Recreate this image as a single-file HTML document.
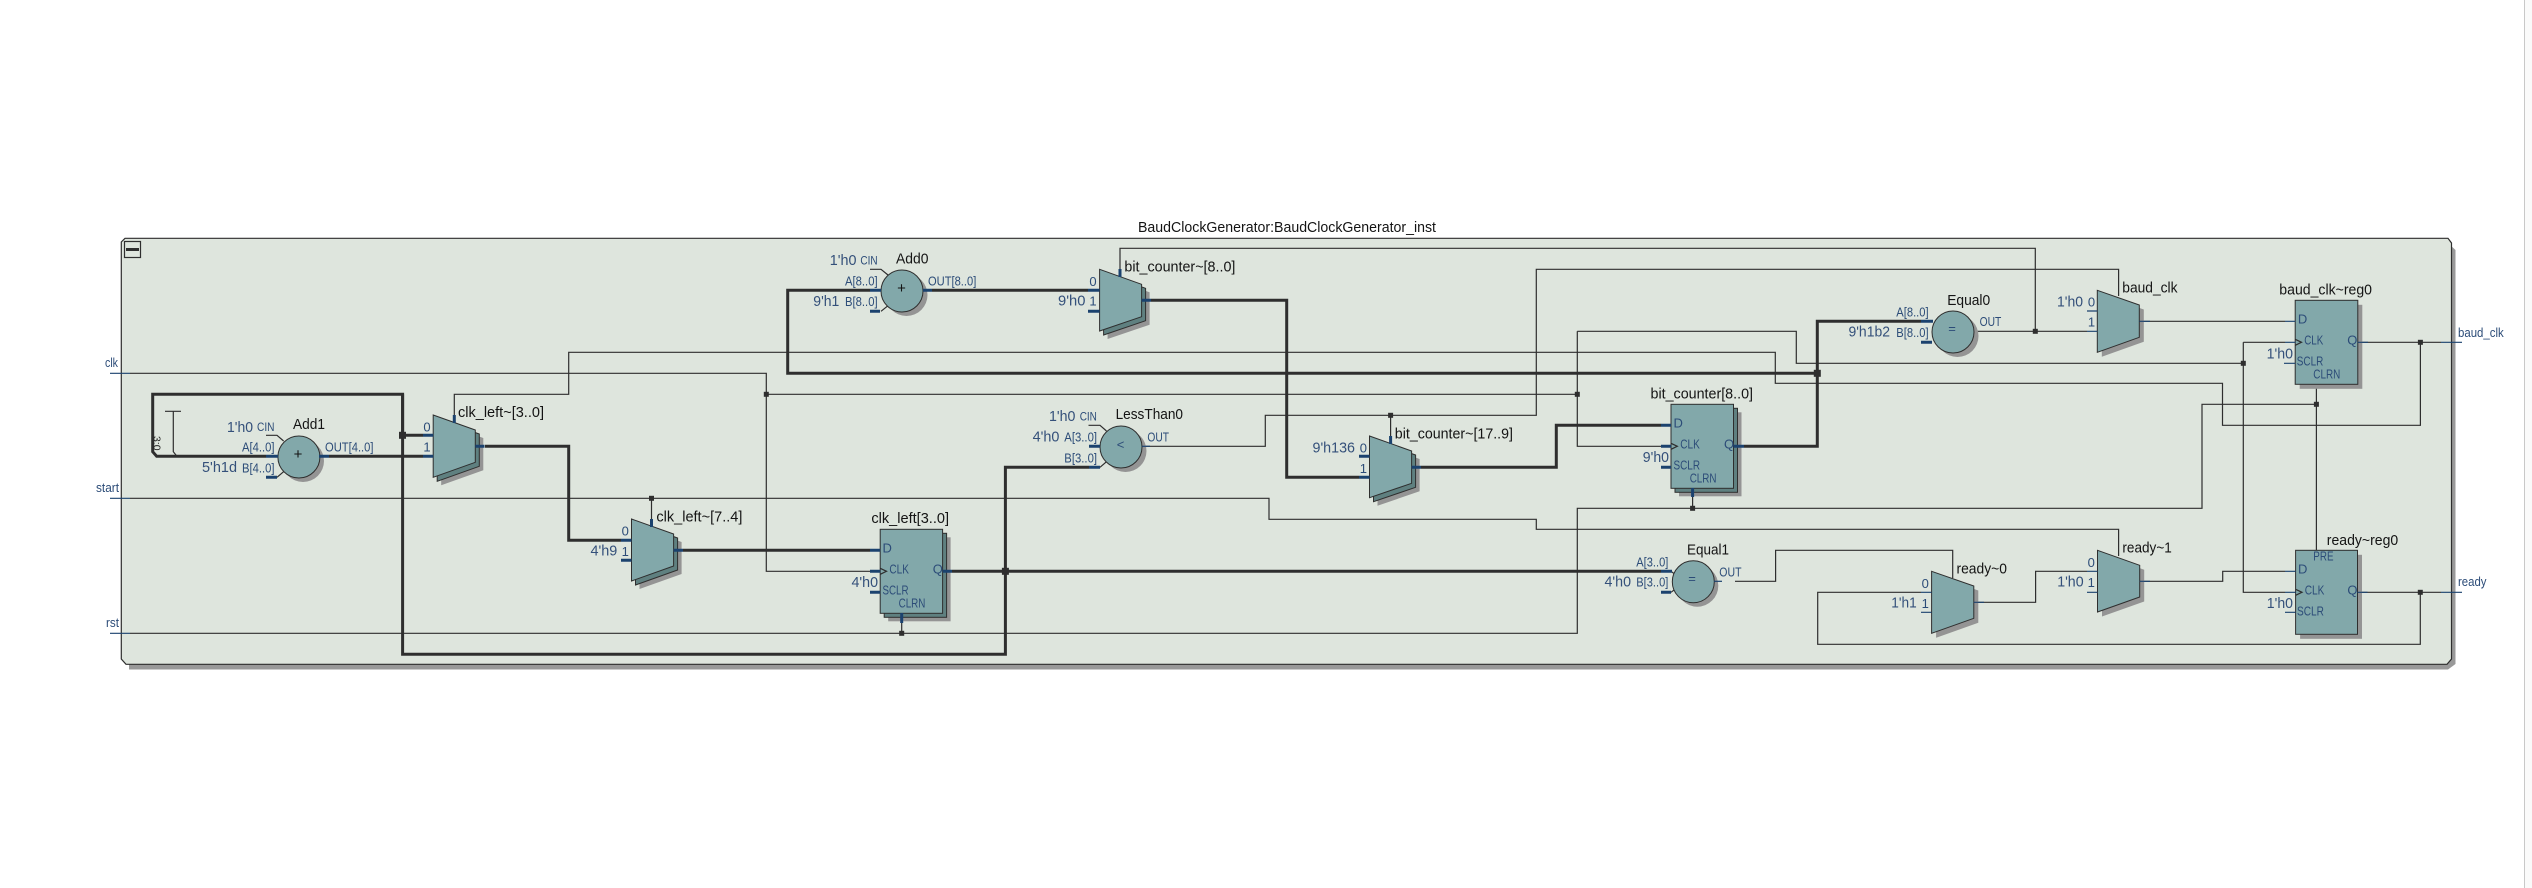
<!DOCTYPE html>
<html><head><meta charset="utf-8"><style>
html,body{margin:0;padding:0;background:#fff;width:2532px;height:888px;overflow:hidden}
svg{display:block;font-family:"Liberation Sans",sans-serif}
.w{fill:none;stroke:#2e2e2e;stroke-width:1.2}
.t{fill:none;stroke:#2e2e2e;stroke-width:3}
.b{fill:none;stroke:#1b426e;stroke-width:3}
.s{fill:none;stroke:#1b426e;stroke-width:1.2}
.f{fill:#82a8aa;stroke:#2e2e2e;stroke-width:1}
.k{fill:#5f8080;stroke:#2e2e2e;stroke-width:1}
.g{fill:#949494}
.j{fill:#2e2e2e}
.n{font-size:15px;fill:#141414}
.c{font-size:15px;fill:#34507a}
.p{font-size:13px;fill:#2c4c78}
.m{font-size:12px;fill:#2c4c78}
</style></head><body>
<svg width="2532" height="888" viewBox="0 0 2532 888" xmlns="http://www.w3.org/2000/svg">
<rect width="2532" height="888" fill="#fff"/>
<rect x="2524" y="0" width="8" height="888" fill="#fafafa"/>
<rect x="2524" y="0" width="1" height="888" fill="#c8c8c8"/>

<polygon fill="#999" points="129,243 2448,243 2455.5,250 2455.5,664 2448,669.5 129,669.5"/>
<polygon points="125,238.3 2448,238.3 2451.5,243 2451.5,659 2447,664.3 126,664.3 121.3,659 121.3,242" fill="#dee5dd" stroke="#2e2e2e" stroke-width="1.2"/>
<rect x="124.5" y="241.5" width="16" height="16" fill="none" stroke="#2e2e2e" stroke-width="1.2"/>
<rect x="126" y="248" width="13" height="3" fill="#2e2e2e"/>

<text x="1138" y="232" class="n" textLength="298" lengthAdjust="spacingAndGlyphs">BaudClockGenerator:BaudClockGenerator_inst</text>

<!-- thin wires -->
<path class="w" d="M130 373.3H766.3V571.3H870"/>
<path class="w" d="M766.3 394.3H1577.3M1577.3 331.3V446.3H1661M1577.3 331.3H1796.3V363.3H2243.3M2243.3 342.3V592.3H2285M2243.3 342.3H2285"/>
<path class="w" d="M130 498.3H1269V519.3H1536.3V529.3H2118.6V556M651.5 498.3V519"/>
<path class="w" d="M130 633.3H1577.3V508.3H2202V404.3H2316.4M2316.4 384V550.3M901.7 613V633.3M1692.6 497V508.3"/>
<path class="w" d="M1142 446.3H1265.3V415.3H1536.3V269.3H2118.6V296M1390.6 415.3V436"/>
<path class="w" d="M1973.7 331.3H2087M2035.3 331.3V248.3H1120V269"/>
<path class="w" d="M1735 581.3H1775.6V550.3H1952.7V578"/>
<path class="w" d="M2357.8 342.3H2441M2420.4 342.3V425.3H2222.5V383.3H1775.3V352.3H568.7V394.3H454.3V415"/>
<path class="w" d="M2357.5 592.3H2441M2420.3 592.3V644.3H1817.7V592.3H1921"/>
<path class="w" d="M1973.8 602.3H2035.6V571.3H2087M2139.7 581.3H2222.7V571.3H2285"/>
<path class="w" d="M2139.3 321.3H2285"/>
<path class="w" d="M165 411.3H181M173.3 411.3V451.7L176.7 456"/>

<!-- thick wires -->
<path class="t" d="M423 435.3H402.6V394.3H152.7V451.7L156.7 456.3H266"/>
<path class="t" d="M329 456.3H423"/>
<path class="t" d="M402.6 394.3V654.3H1005.4V467.3H1089"/>
<path class="t" d="M485 446.3H568.7V540.3H621"/>
<path class="t" d="M683 550.3H870"/>
<path class="t" d="M952 571.3H1661"/>
<path class="t" d="M870 290.3H787.7V373.3H1817.3"/>
<path class="t" d="M932 290.3H1088"/>
<path class="t" d="M1744 446.3H1817.3V321.3H1921"/>
<path class="t" d="M1151 300.3H1286.7V477.3H1359"/>
<path class="t" d="M1421 467.3H1556.3V425.3H1661"/>

<!-- ports -->
<path class="s" d="M110 373.3H130M110 498.3H130M110 633.3H130M2441 342.3H2462M2441 592.3H2462"/>
<text x="105" y="367" class="p" textLength="13" lengthAdjust="spacingAndGlyphs">clk</text>
<text x="96" y="492" class="p" textLength="23" lengthAdjust="spacingAndGlyphs">start</text>
<text x="106" y="627" class="p" textLength="13" lengthAdjust="spacingAndGlyphs">rst</text>
<text x="2458" y="337" class="p" textLength="45.7" lengthAdjust="spacingAndGlyphs">baud_clk</text>
<text x="2458" y="586" class="p" textLength="28.5" lengthAdjust="spacingAndGlyphs">ready</text>

<!-- Add1 -->
<circle class="g" cx="303" cy="461" r="21"/>
<path class="w" d="M266 435.3H277L283.6 441M277 477.3L283.6 471.7"/>
<circle class="f" cx="298.9" cy="457" r="21"/>
<path class="b" d="M266 456.3H278M266 477.3H277M319 456.3H329"/>
<text x="298" y="459" class="n" text-anchor="middle">+</text>
<text x="227" y="432" class="c" textLength="26" lengthAdjust="spacingAndGlyphs">1'h0</text>
<text x="257" y="431" class="m" textLength="17.5" lengthAdjust="spacingAndGlyphs">CIN</text>
<text x="293" y="429" class="n" textLength="32" lengthAdjust="spacingAndGlyphs">Add1</text>
<text x="242" y="451.5" class="p" textLength="32.5" lengthAdjust="spacingAndGlyphs">A[4..0]</text>
<text x="242" y="472.5" class="p" textLength="32.5" lengthAdjust="spacingAndGlyphs">B[4..0]</text>
<text x="202" y="472" class="c" textLength="35" lengthAdjust="spacingAndGlyphs">5'h1d</text>
<text x="325" y="451.5" class="p" textLength="48.5" lengthAdjust="spacingAndGlyphs">OUT[4..0]</text>
<text transform="translate(153.5,436) rotate(90)" style="fill:#222;font-size:10px" textLength="14.5" lengthAdjust="spacingAndGlyphs">3:0</text>

<!-- mux clk_left~[3..0] -->
<polygon class="g" points="441.2,423 483.3,438 483.3,470.3 441.2,485.3"/>
<polygon class="k" points="437.2,419 479.3,434 479.3,466.3 437.2,481.3"/>
<polygon class="f" points="433.2,415 475.3,430 475.3,462.3 433.2,477.3"/>
<path class="b" d="M423 435.3H433.2M423 456.3H433.2M475.3 446.3H484.5M454.3 415V423"/>
<text x="427" y="431.5" class="p" text-anchor="middle">0</text>
<text x="427" y="451.5" class="p" text-anchor="middle">1</text>
<text x="458" y="417" class="n" textLength="86" lengthAdjust="spacingAndGlyphs">clk_left~[3..0]</text>

<!-- mux clk_left~[7..4] -->
<polygon class="g" points="639.5,527 681.6,542 681.6,574 639.5,589"/>
<polygon class="k" points="635.5,523 677.6,538 677.6,570 635.5,585"/>
<polygon class="f" points="631.5,519 673.6,534 673.6,566 631.5,581"/>
<path class="b" d="M621 540.3H631.5M621 560.3H631.5M673.6 550.3H683M651.5 519V527"/>
<text x="625.3" y="535.5" class="p" text-anchor="middle">0</text>
<text x="625.3" y="556" class="p" text-anchor="middle">1</text>
<text x="590.5" y="555.5" class="c" textLength="26.8" lengthAdjust="spacingAndGlyphs">4'h9</text>
<text x="656.4" y="521.5" class="n" textLength="86" lengthAdjust="spacingAndGlyphs">clk_left~[7..4]</text>

<!-- FF clk_left[3..0] -->
<rect class="g" x="888.2" y="537.3" width="62.4" height="84"/>
<rect class="k" x="884.2" y="533.3" width="62.4" height="84"/>
<rect class="f" x="880.2" y="529.3" width="62.4" height="84"/>
<path class="b" d="M870 550.3H880.2M870 571.3H880.2M870 592.3H880.2M942.6 571.3H952M901.7 613V623"/>
<path class="w" d="M880.2 568.3L886.5 571.3L880.2 574.3"/>
<text x="882.5" y="552.5" class="p">D</text>
<text x="889.4" y="573.5" class="p" textLength="19.5" lengthAdjust="spacingAndGlyphs">CLK</text>
<text x="882.5" y="594.5" class="p" textLength="26" lengthAdjust="spacingAndGlyphs">SCLR</text>
<text x="898.6" y="607.5" class="p" textLength="26.8" lengthAdjust="spacingAndGlyphs">CLRN</text>
<text x="932.7" y="573.5" class="p">Q</text>
<text x="851.5" y="587" class="c" textLength="26.5" lengthAdjust="spacingAndGlyphs">4'h0</text>
<text x="871.4" y="523" class="n" textLength="77.6" lengthAdjust="spacingAndGlyphs">clk_left[3..0]</text>

<!-- Add0 -->
<circle class="g" cx="906.5" cy="295" r="21"/>
<path class="w" d="M870 269.3H881L888 275M881 311.3L888 305.7"/>
<circle class="f" cx="902" cy="291" r="21"/>
<path class="b" d="M870 290.3H881M870 311.3H880M923 290.3H932"/>
<text x="901.5" y="293" class="n" text-anchor="middle">+</text>
<text x="829.8" y="265" class="c" textLength="26.7" lengthAdjust="spacingAndGlyphs">1'h0</text>
<text x="860.4" y="264.5" class="m" textLength="17.2" lengthAdjust="spacingAndGlyphs">CIN</text>
<text x="896" y="263.5" class="n" textLength="32.5" lengthAdjust="spacingAndGlyphs">Add0</text>
<text x="845" y="285.5" class="p" textLength="32.6" lengthAdjust="spacingAndGlyphs">A[8..0]</text>
<text x="845" y="306" class="p" textLength="32.6" lengthAdjust="spacingAndGlyphs">B[8..0]</text>
<text x="813.3" y="306" class="c" textLength="26" lengthAdjust="spacingAndGlyphs">9'h1</text>
<text x="928" y="285.5" class="p" textLength="48.3" lengthAdjust="spacingAndGlyphs">OUT[8..0]</text>

<!-- mux bit_counter~[8..0] -->
<polygon class="g" points="1107.6,277.3 1149.6,292.3 1149.6,324.7 1107.6,339"/>
<polygon class="k" points="1103.6,273.3 1145.6,288.3 1145.6,320.7 1103.6,335"/>
<polygon class="f" points="1099.6,269.3 1141.6,284.3 1141.6,316.7 1099.6,331"/>
<path class="b" d="M1088 290.3H1099.6M1088 311.3H1099.6M1141.6 300.3H1151M1120 269V277"/>
<text x="1093" y="286" class="p" text-anchor="middle">0</text>
<text x="1093" y="305.5" class="p" text-anchor="middle">1</text>
<text x="1058" y="305.5" class="c" textLength="27.4" lengthAdjust="spacingAndGlyphs">9'h0</text>
<text x="1124.4" y="271.5" class="n" textLength="111" lengthAdjust="spacingAndGlyphs">bit_counter~[8..0]</text>

<!-- LessThan0 -->
<circle class="g" cx="1125.5" cy="451" r="21"/>
<path class="w" d="M1088.5 425.3H1100L1106.5 431M1100 467.3L1106.5 461.7"/>
<circle class="f" cx="1121" cy="447" r="21"/>
<path class="b" d="M1089 446.3H1100M1089 467.3H1100"/>
<path class="s" d="M1142 446.3H1150"/>
<text x="1120.5" y="449" class="p" text-anchor="middle">&lt;</text>
<text x="1049" y="421" class="c" textLength="26.4" lengthAdjust="spacingAndGlyphs">1'h0</text>
<text x="1079.7" y="420.5" class="m" textLength="17.2" lengthAdjust="spacingAndGlyphs">CIN</text>
<text x="1115.6" y="419" class="n" textLength="67.4" lengthAdjust="spacingAndGlyphs">LessThan0</text>
<text x="1032.6" y="441.5" class="c" textLength="26.8" lengthAdjust="spacingAndGlyphs">4'h0</text>
<text x="1064.3" y="441.5" class="p" textLength="32.7" lengthAdjust="spacingAndGlyphs">A[3..0]</text>
<text x="1064.3" y="462.5" class="p" textLength="32.7" lengthAdjust="spacingAndGlyphs">B[3..0]</text>
<text x="1147.4" y="441.5" class="p" textLength="21.6" lengthAdjust="spacingAndGlyphs">OUT</text>

<!-- mux bit_counter~[17..9] -->
<polygon class="g" points="1377.5,444 1419.6,459 1419.6,491.3 1377.5,505.7"/>
<polygon class="k" points="1373.5,440 1415.6,455 1415.6,487.3 1373.5,501.7"/>
<polygon class="f" points="1369.5,436 1411.6,451 1411.6,483.3 1369.5,497.7"/>
<path class="b" d="M1359 456.3H1369.5M1359 477.3H1369.5M1411.6 467.3H1421M1390.6 436V444"/>
<text x="1363.4" y="452.5" class="p" text-anchor="middle">0</text>
<text x="1363.4" y="473" class="p" text-anchor="middle">1</text>
<text x="1312.5" y="452.5" class="c" textLength="42.5" lengthAdjust="spacingAndGlyphs">9'h136</text>
<text x="1394.8" y="438.5" class="n" textLength="118.2" lengthAdjust="spacingAndGlyphs">bit_counter~[17..9]</text>

<!-- FF bit_counter[8..0] -->
<rect class="g" x="1679" y="412.3" width="62.5" height="84"/>
<rect class="k" x="1675" y="408.3" width="62.5" height="84"/>
<rect class="f" x="1671" y="404.3" width="62.5" height="84"/>
<path class="b" d="M1661 425.3H1671M1661 446.3H1671M1661 467.3H1671M1733.5 446.3H1744M1692.6 488V497"/>
<path class="w" d="M1671 443.3L1677.3 446.3L1671 449.3"/>
<text x="1673.5" y="427.5" class="p">D</text>
<text x="1680.3" y="448.5" class="p" textLength="19.5" lengthAdjust="spacingAndGlyphs">CLK</text>
<text x="1673.5" y="469.5" class="p" textLength="26.5" lengthAdjust="spacingAndGlyphs">SCLR</text>
<text x="1689.7" y="482.5" class="p" textLength="26.8" lengthAdjust="spacingAndGlyphs">CLRN</text>
<text x="1724" y="448.5" class="p">Q</text>
<text x="1642.8" y="462" class="c" textLength="26.2" lengthAdjust="spacingAndGlyphs">9'h0</text>
<text x="1650.5" y="398.5" class="n" textLength="102.5" lengthAdjust="spacingAndGlyphs">bit_counter[8..0]</text>

<!-- Equal1 -->
<circle class="g" cx="1697.3" cy="585.7" r="21"/>
<path class="w" d="M1671 571.3L1678 576.5M1671 592.3L1678 587"/>
<circle class="f" cx="1693.3" cy="581.7" r="21"/>
<path class="b" d="M1661 571.3H1672M1661 592.3H1671"/>
<path class="s" d="M1714 581.3H1722"/>
<text x="1692" y="583" class="p" text-anchor="middle">=</text>
<text x="1687" y="554.5" class="n" textLength="42" lengthAdjust="spacingAndGlyphs">Equal1</text>
<text x="1636.3" y="566.5" class="p" textLength="32" lengthAdjust="spacingAndGlyphs">A[3..0]</text>
<text x="1636.3" y="586.5" class="p" textLength="32" lengthAdjust="spacingAndGlyphs">B[3..0]</text>
<text x="1604.5" y="586.5" class="c" textLength="26.5" lengthAdjust="spacingAndGlyphs">4'h0</text>
<text x="1719.3" y="576.5" class="p" textLength="22.2" lengthAdjust="spacingAndGlyphs">OUT</text>

<!-- Equal0 -->
<circle class="g" cx="1957.5" cy="336" r="21"/>
<circle class="f" cx="1953" cy="332" r="21"/>
<path class="b" d="M1921 321.3H1933M1921 342.3H1932"/>
<text x="1952" y="333" class="p" text-anchor="middle">=</text>
<text x="1947.2" y="305" class="n" textLength="43" lengthAdjust="spacingAndGlyphs">Equal0</text>
<text x="1979.6" y="326" class="p" textLength="21.7" lengthAdjust="spacingAndGlyphs">OUT</text>
<text x="1896.3" y="316.5" class="p" textLength="32.3" lengthAdjust="spacingAndGlyphs">A[8..0]</text>
<text x="1896.3" y="337" class="p" textLength="32.3" lengthAdjust="spacingAndGlyphs">B[8..0]</text>
<text x="1848.5" y="336.5" class="c" textLength="41.5" lengthAdjust="spacingAndGlyphs">9'h1b2</text>

<!-- mux baud_clk -->
<polygon class="g" points="2101.8,294.8 2143.8,309.5 2143.8,341.8 2101.8,356.8"/>
<polygon class="f" points="2097.3,290.3 2139.3,305 2139.3,337.3 2097.3,352.3"/>
<path class="s" d="M2087 311H2097.3M2087 331.3H2097.3M2139.3 321.3H2150"/>
<text x="2091.5" y="306.5" class="p" text-anchor="middle">0</text>
<text x="2091.5" y="326.5" class="p" text-anchor="middle">1</text>
<text x="2057" y="306.5" class="c" textLength="26" lengthAdjust="spacingAndGlyphs">1'h0</text>
<text x="2122.3" y="292.5" class="n" textLength="55.2" lengthAdjust="spacingAndGlyphs">baud_clk</text>

<!-- FF baud_clk~reg0 -->
<rect class="g" x="2299.7" y="304.8" width="62.6" height="84"/>
<rect class="f" x="2295.2" y="300.3" width="62.6" height="84"/>
<path class="s" d="M2285 321.3H2295.2M2285 342.3H2295.2M2284 363.3H2295.2M2357.8 342.3H2368"/>
<path class="w" d="M2295.2 339.3L2301.5 342.3L2295.2 345.3"/>
<text x="2297.9" y="323.5" class="p">D</text>
<text x="2304.2" y="344.5" class="p" textLength="19.1" lengthAdjust="spacingAndGlyphs">CLK</text>
<text x="2296.8" y="365.5" class="p" textLength="26.5" lengthAdjust="spacingAndGlyphs">SCLR</text>
<text x="2313.3" y="378.5" class="p" textLength="27" lengthAdjust="spacingAndGlyphs">CLRN</text>
<text x="2347.2" y="344.5" class="p">Q</text>
<text x="2266.6" y="358.5" class="c" textLength="26.4" lengthAdjust="spacingAndGlyphs">1'h0</text>
<text x="2279.3" y="294.5" class="n" textLength="92.7" lengthAdjust="spacingAndGlyphs">baud_clk~reg0</text>

<!-- mux ready~0 -->
<polygon class="g" points="1936.1,575.8 1978.3,590.5 1978.3,622.8 1936.1,637.8"/>
<polygon class="f" points="1931.6,571.3 1973.8,586 1973.8,618.3 1931.6,633.3"/>
<path class="s" d="M1921 592.3H1931.6M1921 612.3H1931.6M1973.8 602.3H1984"/>
<text x="1925.3" y="588" class="p" text-anchor="middle">0</text>
<text x="1925.3" y="608" class="p" text-anchor="middle">1</text>
<text x="1891.3" y="607.5" class="c" textLength="25.4" lengthAdjust="spacingAndGlyphs">1'h1</text>
<text x="1956.5" y="573.5" class="n" textLength="50.4" lengthAdjust="spacingAndGlyphs">ready~0</text>

<!-- mux ready~1 -->
<polygon class="g" points="2102,554.8 2144.2,569.8 2144.2,601.5 2102,616.5"/>
<polygon class="f" points="2097.5,550.3 2139.7,565.3 2139.7,597 2097.5,612"/>
<path class="s" d="M2087 571.3H2097.5M2087 592.3H2097.5M2139.7 581.3H2150"/>
<text x="2091.3" y="567" class="p" text-anchor="middle">0</text>
<text x="2091.3" y="587" class="p" text-anchor="middle">1</text>
<text x="2057.2" y="586.5" class="c" textLength="26.4" lengthAdjust="spacingAndGlyphs">1'h0</text>
<text x="2122.4" y="552.5" class="n" textLength="49.4" lengthAdjust="spacingAndGlyphs">ready~1</text>

<!-- FF ready~reg0 -->
<rect class="g" x="2300.1" y="554.8" width="61.9" height="84"/>
<rect class="f" x="2295.6" y="550.3" width="61.9" height="84"/>
<path class="s" d="M2285 571.3H2295.6M2285 592.3H2295.6M2285 612.3H2295.6M2357.5 592.3H2367.5"/>
<path class="w" d="M2295.6 589.3L2302 592.3L2295.6 595.3"/>
<text x="2313.3" y="560.5" class="p" textLength="20.2" lengthAdjust="spacingAndGlyphs">PRE</text>
<text x="2298" y="573.5" class="p">D</text>
<text x="2304.7" y="594.5" class="p" textLength="19.7" lengthAdjust="spacingAndGlyphs">CLK</text>
<text x="2297" y="615.5" class="p" textLength="26.9" lengthAdjust="spacingAndGlyphs">SCLR</text>
<text x="2347.4" y="594.5" class="p">Q</text>
<text x="2266.8" y="608" class="c" textLength="26.2" lengthAdjust="spacingAndGlyphs">1'h0</text>
<text x="2326.8" y="545" class="n" textLength="71.4" lengthAdjust="spacingAndGlyphs">ready~reg0</text>

<!-- junctions -->
<g class="j">
<rect x="399" y="431.8" width="7" height="7"/>
<rect x="1001.9" y="567.8" width="7" height="7"/>
<rect x="1813.8" y="369.8" width="7" height="7"/>
<rect x="763.8" y="391.8" width="5" height="5"/>
<rect x="649" y="495.8" width="5" height="5"/>
<rect x="899.2" y="630.8" width="5" height="5"/>
<rect x="1388.1" y="412.8" width="5" height="5"/>
<rect x="1574.8" y="391.8" width="5" height="5"/>
<rect x="1690.1" y="505.8" width="5" height="5"/>
<rect x="2032.8" y="328.8" width="5" height="5"/>
<rect x="2240.8" y="360.8" width="5" height="5"/>
<rect x="2313.9" y="401.8" width="5" height="5"/>
<rect x="2417.9" y="339.8" width="5" height="5"/>
<rect x="2417.8" y="589.8" width="5" height="5"/>
</g>
</svg>
</body></html>
